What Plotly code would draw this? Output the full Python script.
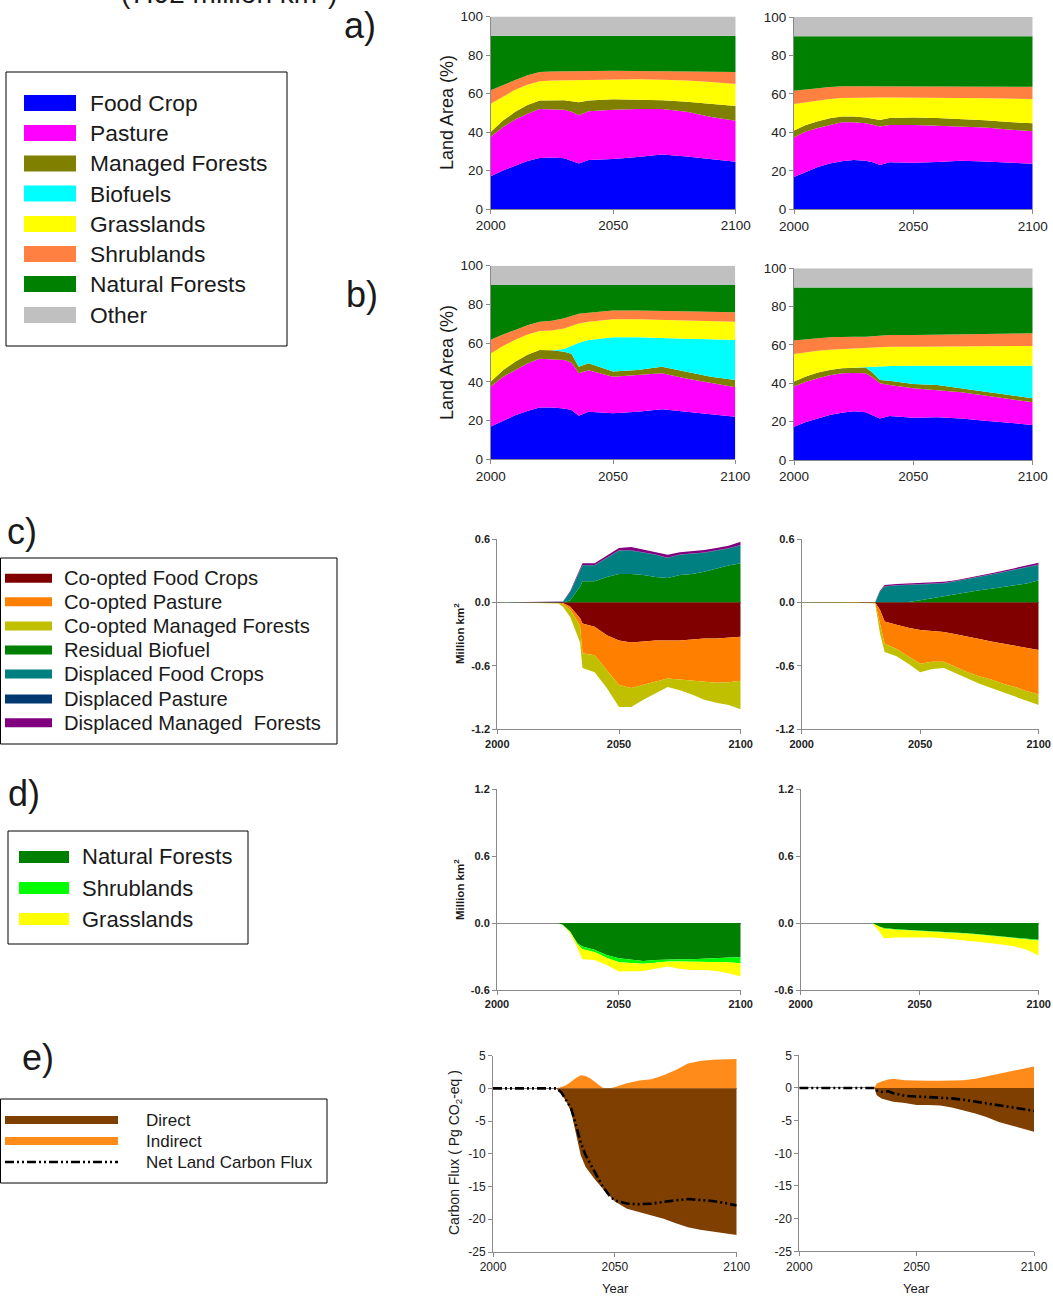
import plotly.graph_objects as go

W, H = 1053, 1299
FONT = "Arial, 'Liberation Sans', sans-serif"
TXT = "#1a1a1a"
AXC = "#8a8a8a"


def fx(x):
    return x / W


def fy(y):
    return 1 - y / H


# ---------------- data ----------------
# Panels a) and b): upper edge of each land-use band, % of land area
years_ab = [2000, 2005, 2010, 2015, 2020, 2025, 2030, 2033, 2036, 2040,
            2050, 2060, 2070, 2080, 2090, 2100]

a_l_food = [17, 20, 22.5, 25, 26.5, 26.7, 26.3, 25, 23.7, 25.5, 26, 27, 28.3, 27.3, 26, 24.5]
a_l_pasture = [37.5, 42.5, 46.5, 49.5, 52, 51.8, 51.5, 50.5, 48.7, 50.8, 51.6, 52, 52, 50.5, 47.8, 45.8]
a_l_managed = [40, 46, 50.5, 54, 56.3, 56.5, 56.5, 56, 55.5, 56.3, 57, 56.7, 56.5, 55.7, 54.5, 53.5]
a_l_grass = [54.7, 58.5, 62, 64.5, 66.3, 66.7, 66.8, 67, 67, 67.2, 67.5, 67.4, 67.2, 66.8, 66, 65]
a_l_shrub = [61.7, 64.5, 67, 69.5, 71.2, 71.4, 71.5, 71.6, 71.7, 71.8, 71.8, 71.7, 71.6, 71.5, 71.3, 71.2]

a_r_food = [16.8, 19.5, 22, 23.8, 25, 25.6, 25.3, 24.5, 23, 24.5, 24.2, 24.6, 25.2, 24.8, 24.3, 23.7]
a_r_pasture = [37.5, 40.5, 42.3, 44, 45.3, 45.3, 44.8, 44, 43, 43.9, 43.9, 43.5, 43, 42.5, 41.5, 40.6]
a_r_managed = [41, 43.8, 45.8, 47.3, 48.2, 48.2, 47.8, 47.2, 46.5, 47.5, 47.8, 47.5, 47, 46.3, 45.4, 44.7]
a_r_grass = [54.7, 55.7, 56.5, 57.3, 57.9, 58.1, 58.2, 58.2, 58.2, 58.2, 58.2, 58.1, 57.9, 57.7, 57.5, 57.3]
a_r_shrub = [61.7, 62.5, 63, 63.6, 64, 64, 64, 64, 64, 64, 64, 63.9, 63.8, 63.7, 63.7, 63.7]

b_l_food = [16.9, 20, 22.7, 25, 26.7, 26.8, 26.3, 25.5, 22.5, 24.6, 23.8, 24.6, 25.8, 24.6, 23.2, 22]
b_l_pasture = [37.5, 42.5, 46, 49.5, 52, 51.8, 51.3, 50, 44.4, 46, 42.7, 43.5, 44.4, 41.8, 39.6, 37.2]
b_l_managed = [40, 46, 50.4, 54, 56.5, 56.3, 55.6, 54.5, 47.8, 49.6, 45.3, 46.1, 47.8, 45.3, 42.7, 41]
b_l_biofuel = [40, 46, 50.4, 54, 56.5, 56.3, 57, 58.5, 60.2, 61.6, 63, 63, 62.5, 62.3, 62, 61.6]
b_l_grass = [54.7, 58.5, 61.7, 64.5, 66.3, 66.5, 67.6, 68.8, 70.2, 71, 72.3, 72.3, 72, 71.6, 71.3, 71]
b_l_shrub = [61.7, 64.5, 66.8, 69.3, 71.1, 71.6, 72.8, 74, 75.2, 75.7, 76.8, 76.8, 76.6, 76.2, 76, 75.9]

b_r_food = [17.4, 19.8, 21.7, 23.5, 24.7, 25.4, 24.9, 23.5, 21.7, 23, 22.1, 22.3, 21.7, 20.5, 19.5, 18.3]
b_r_pasture = [38.3, 40.8, 42.6, 44.2, 45.2, 45.4, 45.2, 43, 40, 39.1, 37.4, 36.5, 35.3, 33.6, 31.8, 30.1]
b_r_managed = [40.9, 43.5, 45.6, 47, 47.8, 48.1, 48.2, 45.5, 41.7, 41.4, 39.7, 39.1, 37.4, 35.7, 33.9, 32.2]
b_r_biofuel = [40.9, 43.5, 45.6, 47, 47.8, 48.1, 48.3, 48.5, 48.8, 49, 49.2, 49.2, 49.2, 49.2, 49.2, 49.2]
b_r_grass = [55.3, 56.2, 57, 57.5, 57.9, 58.1, 58.3, 58.6, 58.9, 59.1, 59.1, 59.2, 59.2, 59.3, 59.4, 59.5]
b_r_shrub = [62.3, 63, 63.5, 64, 64.3, 64.3, 64.3, 64.6, 65, 65.2, 65.2, 65.4, 65.6, 65.8, 66, 66.1]

forest_top = [90] * len(years_ab)
other_top = [100] * len(years_ab)

# Panel c): cumulative edges of biofuel land sources, million km2
years_c_l = [2000, 2025, 2027, 2030, 2034, 2035, 2040, 2045, 2050, 2055, 2060,
             2065, 2070, 2075, 2080, 2085, 2090, 2095, 2100]
c_l_residual = [0, 0, 0, 0.02, 0.15, 0.2, 0.2, 0.24, 0.27, 0.27, 0.26, 0.24, 0.23, 0.26, 0.27, 0.29, 0.32, 0.35, 0.37]
c_l_disp_food = [0, 0, 0.005, 0.1, 0.3, 0.35, 0.35, 0.42, 0.49, 0.49, 0.47, 0.45, 0.42, 0.45, 0.46, 0.47, 0.49, 0.51, 0.54]
c_l_disp_past = [0, 0.001, 0.007, 0.103, 0.303, 0.353, 0.353, 0.423, 0.493, 0.493, 0.473, 0.453, 0.423, 0.453, 0.463, 0.473, 0.493, 0.513, 0.543]
c_l_disp_mf = [0, 0.003, 0.01, 0.11, 0.32, 0.37, 0.37, 0.445, 0.515, 0.525, 0.5, 0.475, 0.45, 0.475, 0.485, 0.495, 0.515, 0.535, 0.575]
c_l_coop_food = [0, 0, -0.005, -0.04, -0.15, -0.2, -0.23, -0.31, -0.36, -0.38, -0.37, -0.36, -0.36, -0.36, -0.35, -0.34, -0.34, -0.33, -0.325]
c_l_coop_past = [0, -0.005, -0.02, -0.07, -0.22, -0.48, -0.5, -0.64, -0.78, -0.81, -0.78, -0.75, -0.72, -0.73, -0.74, -0.75, -0.76, -0.755, -0.74]
c_l_coop_mf = [0, -0.01, -0.04, -0.14, -0.38, -0.62, -0.66, -0.81, -0.99, -0.99, -0.92, -0.86, -0.8, -0.83, -0.87, -0.92, -0.95, -0.97, -1.01]

years_c_r = [2000, 2023, 2031, 2033, 2035, 2040, 2045, 2050, 2055, 2060, 2065,
             2070, 2075, 2080, 2085, 2090, 2095, 2100]
c_r_residual = [0, 0, 0, 0, 0, 0, 0.005, 0.02, 0.04, 0.06, 0.08, 0.1, 0.115, 0.13, 0.145, 0.16, 0.18, 0.21]
c_r_disp_food = [0, 0, 0, 0.1, 0.15, 0.16, 0.165, 0.17, 0.175, 0.18, 0.2, 0.22, 0.24, 0.26, 0.285, 0.31, 0.33, 0.355]
c_r_disp_past = [0, 0.001, 0.002, 0.103, 0.153, 0.163, 0.168, 0.173, 0.178, 0.183, 0.203, 0.223, 0.243, 0.263, 0.288, 0.313, 0.333, 0.358]
c_r_disp_mf = [0, 0.003, 0.005, 0.11, 0.165, 0.175, 0.18, 0.185, 0.19, 0.195, 0.21, 0.23, 0.25, 0.275, 0.3, 0.325, 0.345, 0.375]
c_r_coop_food = [0, 0, 0, -0.07, -0.18, -0.21, -0.24, -0.26, -0.27, -0.28, -0.3, -0.32, -0.345, -0.37, -0.39, -0.41, -0.43, -0.45]
c_r_coop_past = [0, 0, -0.005, -0.2, -0.39, -0.44, -0.51, -0.58, -0.56, -0.56, -0.61, -0.66, -0.7, -0.73, -0.77, -0.8, -0.84, -0.87]
c_r_coop_mf = [0, 0, -0.01, -0.29, -0.47, -0.51, -0.58, -0.66, -0.63, -0.62, -0.67, -0.72, -0.77, -0.81, -0.85, -0.89, -0.93, -0.97]

# Panel d): cumulative edges of natural land lost, million km2
years_d_l = [2000, 2025, 2027, 2030, 2033, 2035, 2040, 2045, 2050, 2055, 2060,
             2065, 2070, 2075, 2080, 2085, 2090, 2095, 2100]
d_l_forest = [0, 0, -0.015, -0.075, -0.18, -0.21, -0.24, -0.285, -0.315, -0.33, -0.34, -0.33, -0.325, -0.325, -0.325, -0.32, -0.315, -0.31, -0.305]
d_l_shrub = [0, 0, -0.017, -0.08, -0.19, -0.235, -0.26, -0.31, -0.35, -0.36, -0.365, -0.355, -0.345, -0.345, -0.345, -0.345, -0.345, -0.35, -0.36]
d_l_grass = [0, 0, -0.02, -0.09, -0.22, -0.325, -0.33, -0.375, -0.435, -0.435, -0.43, -0.41, -0.39, -0.41, -0.42, -0.42, -0.43, -0.45, -0.48]

years_d_r = [2000, 2030, 2033, 2035, 2040, 2045, 2050, 2055, 2060, 2065, 2070,
             2075, 2080, 2085, 2090, 2095, 2100]
d_r_forest = [0, 0, -0.03, -0.045, -0.055, -0.06, -0.066, -0.072, -0.08, -0.085, -0.09, -0.1, -0.11, -0.12, -0.13, -0.14, -0.15]
d_r_shrub = [0, 0, -0.033, -0.05, -0.06, -0.065, -0.071, -0.077, -0.085, -0.09, -0.095, -0.105, -0.115, -0.125, -0.135, -0.145, -0.157]
d_r_grass = [0, 0, -0.075, -0.135, -0.13, -0.128, -0.126, -0.13, -0.135, -0.145, -0.156, -0.168, -0.18, -0.195, -0.21, -0.24, -0.29]

# Panel e): land carbon fluxes, Pg CO2-eq
years_e_l = [2000, 2026, 2028, 2030, 2032, 2034, 2036, 2038, 2040, 2042, 2045,
             2048, 2050, 2055, 2060, 2065, 2070, 2075, 2080, 2085, 2090, 2095, 2100]
e_l_indirect = [0, 0, 0.2, 0.5, 1.0, 1.6, 2.0, 1.9, 1.5, 0.9, 0.1, 0, 0.25, 0.8, 1.2, 1.4, 2.0, 2.8, 3.8, 4.2, 4.4, 4.5, 4.5]
e_l_direct = [0, 0, -0.8, -2.0, -3.5, -7.0, -10.2, -12.0, -13.0, -14.0, -15.3, -16.6, -17.3, -18.4, -18.9, -19.4, -19.9, -20.6, -21.2, -21.6, -21.9, -22.2, -22.4]
e_l_net = [0, 0, -0.6, -1.8, -3.0, -5.5, -8.3, -10.2, -11.6, -13.0, -15.0, -16.5, -17.1, -17.6, -17.7, -17.6, -17.3, -17.1, -16.9, -17.0, -17.2, -17.5, -17.9]

years_e_r = [2000, 2032, 2033, 2035, 2038, 2040, 2045, 2050, 2055, 2060, 2065,
             2070, 2075, 2080, 2085, 2090, 2095, 2100]
e_r_indirect = [0, 0, 0.7, 1.0, 1.3, 1.4, 1.2, 1.1, 1.1, 1.1, 1.1, 1.2, 1.4, 1.8, 2.1, 2.5, 2.9, 3.3]
e_r_direct = [0, 0, -1.1, -1.6, -1.9, -2.1, -2.3, -2.6, -2.6, -2.7, -3.0, -3.4, -3.9, -4.5, -5.2, -5.7, -6.2, -6.7]
e_r_net = [0, 0, -0.4, -0.6, -0.5, -0.8, -1.2, -1.3, -1.35, -1.4, -1.6, -1.8, -2.1, -2.4, -2.7, -3.0, -3.2, -3.5]

# legend labels
land_labels = ["Food Crop", "Pasture", "Managed Forests", "Biofuels",
               "Grasslands", "Shrublands", "Natural Forests", "Other"]
source_labels = ["Co-opted Food Crops", "Co-opted Pasture", "Co-opted Managed Forests",
                 "Residual Biofuel", "Displaced Food Crops", "Displaced Pasture",
                 "Displaced Managed\u00a0 Forests"]
natural_labels = ["Natural Forests", "Shrublands", "Grasslands"]
flux_labels = ["Direct", "Indirect", "Net Land Carbon Flux"]

# ---------------- styles ----------------
C_FOOD, C_PAST, C_MF, C_BIO = "#0000ff", "#ff00ff", "#808000", "#00ffff"
C_GRASS, C_SHRUB, C_NFOR, C_OTHER = "#ffff00", "#ff8040", "#008000", "#c0c0c0"
land_colors = [C_FOOD, C_PAST, C_MF, C_BIO, C_GRASS, C_SHRUB, C_NFOR, C_OTHER]

C_CFOOD, C_CPAST, C_CMF = "#800000", "#ff8000", "#c0c000"
C_RES, C_DFOOD, C_DPAST, C_DMF = "#008000", "#008080", "#003870", "#800080"
source_colors = [C_CFOOD, C_CPAST, C_CMF, C_RES, C_DFOOD, C_DPAST, C_DMF]

natural_colors = ["#008000", "#00ff00", "#ffff00"]
C_DIRECT, C_INDIRECT = "#7f3f00", "#ff8c1a"
NET_DASH = "9px,3px,2px,3px,2px,3px"

fig = go.Figure()


def ax_names(n):
    return ("x" if n == 1 else f"x{n}"), ("y" if n == 1 else f"y{n}")


def bands(n, years, edges):
    xa, ya = ax_names(n)
    for i, (vals, col) in enumerate(edges):
        fig.add_trace(go.Scatter(
            x=years, y=vals, xaxis=xa, yaxis=ya, mode="lines",
            line=dict(width=0, color=col), fillcolor=col,
            fill="tozeroy" if i == 0 else "tonexty",
            showlegend=False, hoverinfo="skip"))


# a) and b)
bands(1, years_ab, [(a_l_food, C_FOOD), (a_l_pasture, C_PAST), (a_l_managed, C_MF),
                    (a_l_grass, C_GRASS), (a_l_shrub, C_SHRUB), (forest_top, C_NFOR),
                    (other_top, C_OTHER)])
bands(2, years_ab, [(a_r_food, C_FOOD), (a_r_pasture, C_PAST), (a_r_managed, C_MF),
                    (a_r_grass, C_GRASS), (a_r_shrub, C_SHRUB), (forest_top, C_NFOR),
                    (other_top, C_OTHER)])
bands(3, years_ab, [(b_l_food, C_FOOD), (b_l_pasture, C_PAST), (b_l_managed, C_MF),
                    (b_l_biofuel, C_BIO), (b_l_grass, C_GRASS), (b_l_shrub, C_SHRUB),
                    (forest_top, C_NFOR), (other_top, C_OTHER)])
bands(4, years_ab, [(b_r_food, C_FOOD), (b_r_pasture, C_PAST), (b_r_managed, C_MF),
                    (b_r_biofuel, C_BIO), (b_r_grass, C_GRASS), (b_r_shrub, C_SHRUB),
                    (forest_top, C_NFOR), (other_top, C_OTHER)])

# c) positive side (new land for biofuel) then negative side (co-opted land)
bands(5, years_c_l, [(c_l_residual, C_RES), (c_l_disp_food, C_DFOOD),
                     (c_l_disp_past, C_DPAST), (c_l_disp_mf, C_DMF)])
bands(5, years_c_l, [(c_l_coop_food, C_CFOOD), (c_l_coop_past, C_CPAST), (c_l_coop_mf, C_CMF)])
bands(6, years_c_r, [(c_r_residual, C_RES), (c_r_disp_food, C_DFOOD),
                     (c_r_disp_past, C_DPAST), (c_r_disp_mf, C_DMF)])
bands(6, years_c_r, [(c_r_coop_food, C_CFOOD), (c_r_coop_past, C_CPAST), (c_r_coop_mf, C_CMF)])

# d)
bands(7, years_d_l, [(d_l_forest, natural_colors[0]), (d_l_shrub, natural_colors[1]),
                     (d_l_grass, natural_colors[2])])
bands(8, years_d_r, [(d_r_forest, natural_colors[0]), (d_r_shrub, natural_colors[1]),
                     (d_r_grass, natural_colors[2])])

# e)
for n, yrs, ind, dirc, net in [(9, years_e_l, e_l_indirect, e_l_direct, e_l_net),
                               (10, years_e_r, e_r_indirect, e_r_direct, e_r_net)]:
    xa, ya = ax_names(n)
    fig.add_trace(go.Scatter(x=yrs, y=ind, xaxis=xa, yaxis=ya, mode="lines",
                             line=dict(width=0, color=C_INDIRECT), fill="tozeroy",
                             fillcolor=C_INDIRECT, showlegend=False, hoverinfo="skip"))
    fig.add_trace(go.Scatter(x=yrs, y=dirc, xaxis=xa, yaxis=ya, mode="lines",
                             line=dict(width=0, color=C_DIRECT), fill="tozeroy",
                             fillcolor=C_DIRECT, showlegend=False, hoverinfo="skip"))
    fig.add_trace(go.Scatter(x=yrs, y=net, xaxis=xa, yaxis=ya, mode="lines",
                             line=dict(width=2.6, color="black", dash=NET_DASH),
                             showlegend=False, hoverinfo="skip"))

# ---------------- axes ----------------
layout_axes = {}


def set_axes(n, xpx, ypx, yrange, yvals, ytext, tfont, zero=False):
    xk = "xaxis" if n == 1 else f"xaxis{n}"
    yk = "yaxis" if n == 1 else f"yaxis{n}"
    xa, ya = ax_names(n)
    common = dict(showgrid=False, showline=True, linecolor=AXC, linewidth=1,
                  ticks="outside", ticklen=4, tickcolor=AXC, tickwidth=1,
                  tickfont=tfont, fixedrange=True, automargin=False)
    layout_axes[xk] = dict(domain=[fx(xpx[0]), fx(xpx[1])], anchor=ya, range=[2000, 2100],
                           tickvals=[2000, 2050, 2100], zeroline=False, **common)
    layout_axes[yk] = dict(domain=[fy(ypx[1]), fy(ypx[0])], anchor=xa, range=yrange,
                           tickvals=yvals, ticktext=ytext, zeroline=zero,
                           zerolinecolor=AXC, zerolinewidth=1, **common)


f_ab = dict(family=FONT, size=13.5, color="#222")
f_cd = dict(family=FONT, size=11, color="#222", weight="bold")
f_e = dict(family=FONT, size=12, color="#222")

pct_vals = [0, 20, 40, 60, 80, 100]
pct_text = [str(v) for v in pct_vals]
set_axes(1, (490.7, 735.7), (16.5, 209), [0, 100], pct_vals, pct_text, f_ab)
set_axes(2, (794, 1032.7), (17, 209.3), [0, 100], pct_vals, pct_text, f_ab)
set_axes(3, (490.7, 735.3), (265.7, 459.3), [0, 100], pct_vals, pct_text, f_ab)
set_axes(4, (794, 1032.7), (268.3, 460), [0, 100], pct_vals, pct_text, f_ab)

c_vals = [-1.2, -0.6, 0.0, 0.6]
c_text = ["-1.2", "-0.6", "0.0", "0.6"]
set_axes(5, (497.3, 740.7), (539, 729.3), [-1.2, 0.6], c_vals, c_text, f_cd, zero=True)
set_axes(6, (801.7, 1038.7), (539, 729.3), [-1.2, 0.6], c_vals, c_text, f_cd, zero=True)

d_vals = [-0.6, 0.0, 0.6, 1.2]
d_text = ["-0.6", "0.0", "0.6", "1.2"]
set_axes(7, (497, 740.7), (789.3, 990), [-0.6, 1.2], d_vals, d_text, f_cd, zero=True)
set_axes(8, (800.7, 1038.7), (789.3, 990), [-0.6, 1.2], d_vals, d_text, f_cd, zero=True)

e_vals = [-25, -20, -15, -10, -5, 0, 5]
e_text = ["-25", "-20", "-15", "-10", "-5", "0", "5"]
set_axes(9, (493, 736.7), (1055.7, 1252), [-25, 5], e_vals, e_text, f_e, zero=True)
set_axes(10, (799.3, 1034), (1055.3, 1251.3), [-25, 5], e_vals, e_text, f_e, zero=True)

# ---------------- annotations & legend boxes ----------------
ann = []
shapes = []


def text(x, y, s, size, angle=0, xanchor="left", yanchor="middle", weight="normal"):
    ann.append(dict(x=fx(x), y=fy(y), xref="paper", yref="paper", text=s,
                    showarrow=False, xanchor=xanchor, yanchor=yanchor, textangle=angle,
                    font=dict(family=FONT, size=size, color=TXT, weight=weight)))


def rect(x0, y0, x1, y1, fill=None, line=None):
    shapes.append(dict(type="rect", xref="paper", yref="paper",
                       x0=fx(x0), x1=fx(x1), y0=fy(y1), y1=fy(y0),
                       fillcolor=fill if fill else "rgba(0,0,0,0)",
                       line=dict(color=line if line else "rgba(0,0,0,0)", width=1)))


# title running off the top edge
text(229, -9, "(7.92 million km<sup>2</sup>)", 28, xanchor="center")

# panel letters
text(360, 25, "a)", 36, xanchor="center")
text(362, 294, "b)", 36, xanchor="center")
text(22, 531, "c)", 36, xanchor="center")
text(24, 793, "d)", 36, xanchor="center")
text(38, 1057, "e)", 36, xanchor="center")

# axis titles
text(447, 113, "Land Area (%)", 18, angle=-90, xanchor="center")
text(447, 363, "Land Area (%)", 18, angle=-90, xanchor="center")
text(459, 634, "Million km<sup>2</sup>", 11.5, angle=-90, xanchor="center", weight="bold")
text(459, 890, "Million km<sup>2</sup>", 11.5, angle=-90, xanchor="center", weight="bold")
text(455, 1153, "Carbon Flux ( Pg CO<sub>2</sub>-eq )", 14, angle=-90, xanchor="center")
text(615, 1288, "Year", 13, xanchor="center")
text(916, 1288, "Year", 13, xanchor="center")

# legend box 1
rect(6, 72, 287, 346, line="black")
rows1 = [103, 133, 163.5, 193.5, 224, 254, 284, 315]
for lab, col, yy in zip(land_labels, land_colors, rows1):
    rect(24, yy - 8, 76, yy + 8, fill=col)
    text(88, yy, lab, 22.8)

# legend box 2
rect(0.5, 558, 337, 744, line="black")
rows2 = [578.3, 601.7, 626, 650, 674, 699, 722.7]
for lab, col, yy in zip(source_labels, source_colors, rows2):
    rect(5, yy - 4.5, 52, yy + 4.5, fill=col)
    text(62, yy, lab, 20.2)

# legend box 3
rect(8, 831, 248, 944, line="black")
rows3 = [857, 888, 919]
for lab, col, yy in zip(natural_labels, natural_colors, rows3):
    rect(19, yy - 6, 69, yy + 6, fill=col)
    text(80, yy, lab, 22)

# legend box 4
rect(0.5, 1099, 327, 1183, line="black")
rect(5, 1116, 118, 1124, fill=C_DIRECT)
rect(5, 1137, 118, 1145, fill=C_INDIRECT)
shapes.append(dict(type="line", xref="paper", yref="paper", x0=fx(5), x1=fx(118),
                   y0=fy(1162), y1=fy(1162), line=dict(color="black", width=2.6, dash=NET_DASH)))
for lab, yy in zip(flux_labels, [1120, 1141, 1162]):
    text(144, yy, lab, 17)

fig.update_layout(
    width=W, height=H, autosize=False,
    margin=dict(l=0, r=0, t=0, b=0, pad=0, autoexpand=False),
    paper_bgcolor="white", plot_bgcolor="white",
    showlegend=False, annotations=ann, shapes=shapes,
    font=dict(family=FONT, color=TXT),
    **layout_axes,
)

# the page keeps only the figure: no body margin, no scrollbars
fig.write_html(
    "out.html",
    post_script="document.body.style.margin='0';document.body.style.overflow='hidden';",
)
